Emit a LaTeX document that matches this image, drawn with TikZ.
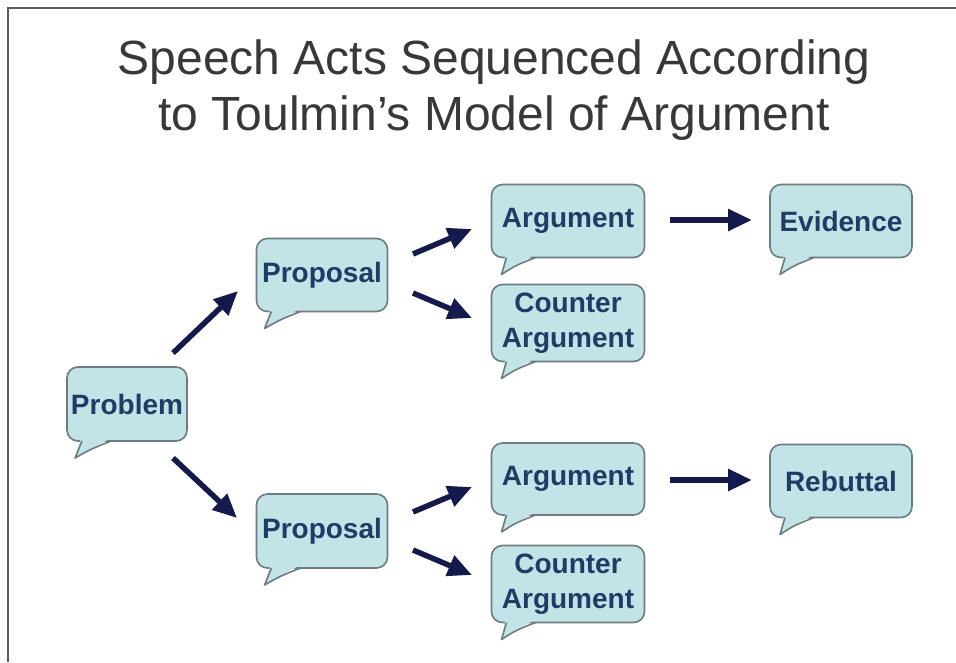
\documentclass[tikz,border=0pt]{standalone}
\usepackage{fontspec}
\setmainfont{Liberation Sans}
\usetikzlibrary{arrows.meta}
\definecolor{bubc}{HTML}{C2E4E7}
\definecolor{bordc}{HTML}{6E7C80}
\definecolor{txtc}{HTML}{1F3B66}
\definecolor{arrc}{HTML}{141A4C}
\definecolor{titc}{HTML}{383838}
\definecolor{framec}{HTML}{5A5A5A}
\tikzset{
  bubble/.style={draw=bordc, fill=bubc, line width=1.6pt, rounded corners=11pt,
    text=txtc, font=\fontsize{28}{35}\selectfont\bfseries, align=center,
    inner sep=0pt, outer sep=0pt},
  flow/.style={draw=arrc, line width=5.5pt, -{Triangle[length=24pt,width=21pt]}},
  titletext/.style={text=titc, font=\fontsize{48}{56}\selectfont, align=center}
}
\newcommand{\spbubble}[6]{%
  \node[bubble, minimum width=#3, minimum height=#4] (#1) at #2 {#5};
  \fill[bubc] ([shift={(14,-3)}]#1.south west) -- ([shift={(#6,17)}]#1.south west) .. controls ([shift={(24,8)}]#1.south west) .. ([shift={(44,-3)}]#1.south west) -- cycle;
  \draw[bordc, line width=1.6pt, line join=round] ([shift={(15,0)}]#1.south west) -- ([shift={(#6,17)}]#1.south west) .. controls ([shift={(24,8)}]#1.south west) .. ([shift={(44,0)}]#1.south west);
}
\begin{document}
\begin{tikzpicture}[x=1pt,y=-1pt]
\useasboundingbox (0,0) rectangle (956,662);
\fill[white] (0,0) rectangle (956,662);
\draw[framec, line width=2pt] (956,8) -- (8,8) -- (8,662);
\node[titletext] (title) at (494,90) {Speech Acts Sequenced According\\to Toulmin’s Model of Argument};

\spbubble{prob}{(127,404)}{120pt}{74pt}{Problem}{8}
\spbubble{prop1}{(322,275)}{131pt}{73pt}{Proposal}{8}
\spbubble{arg1}{(568,221)}{153pt}{73pt}{Argument}{10}
\spbubble{ctr1}{(568,323)}{153pt}{77pt}{Counter\\Argument}{10}
\spbubble{evid}{(841,221)}{142pt}{73pt}{Evidence}{10}
\spbubble{prop2}{(322,531)}{131pt}{74pt}{Proposal}{8}
\spbubble{arg2}{(568,479)}{153pt}{72pt}{Argument}{10}
\spbubble{ctr2}{(568,584)}{153pt}{77pt}{Counter\\Argument}{10}
\spbubble{reb}{(841,481)}{142pt}{73pt}{Rebuttal}{10}

\draw[flow] ([shift={(-14,-14)}]prob.north east) -- ([shift={(-18.5,16)}]prop1.west);
\draw[flow] ([shift={(-14,17)}]prob.south east) -- ([shift={(-19.5,-13)}]prop2.west);
\draw[flow] ([shift={(25.5,-21)}]prop1.east) -- ([shift={(-19.5,8)}]arg1.west);
\draw[flow] ([shift={(25.5,18)}]prop1.east) -- ([shift={(-19.5,-5)}]ctr1.west);
\draw[flow] ([shift={(25.5,-1)}]arg1.east) -- ([shift={(-18,-1)}]evid.west);
\draw[flow] ([shift={(25.5,-19)}]prop2.east) -- ([shift={(-19.5,8)}]arg2.west);
\draw[flow] ([shift={(25.5,19)}]prop2.east) -- ([shift={(-19.5,-9)}]ctr2.west);
\draw[flow] ([shift={(25.5,1)}]arg2.east) -- ([shift={(-18,-1)}]reb.west);
\end{tikzpicture}
\end{document}
